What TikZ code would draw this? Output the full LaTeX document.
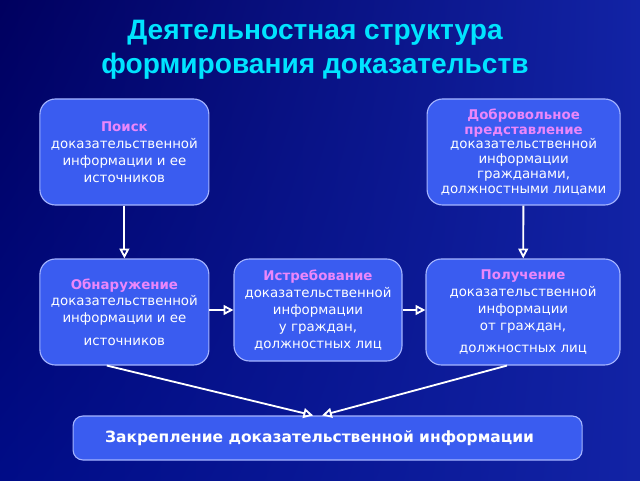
\documentclass[tikz,border=0pt]{standalone}
\usepackage{fontspec}
\setmainfont{DejaVu Sans}
\newfontfamily\titlefont{Liberation Sans}
\usetikzlibrary{arrows.meta,calc,shadings}
\definecolor{bgdark}{RGB}{0,0,95}
\definecolor{bgmid}{RGB}{0,12,135}
\definecolor{bglight}{RGB}{18,35,165}
\definecolor{boxblue}{RGB}{58,92,240}
\definecolor{boxline}{RGB}{165,180,255}
\definecolor{headpink}{RGB}{235,135,250}
\definecolor{titlecyan}{RGB}{0,228,255}
\tikzset{>={Triangle[open,length=7pt,width=7pt]}}
\tikzset{
  stagebox/.style={draw=boxline, line width=0.8pt, fill=boxblue, rounded corners=11pt,
    text=white, align=center, inner sep=2pt, font=\fontsize{9.5}{12}\selectfont},
  flow/.style={->, white, line width=1.3pt},
}
\newcommand{\head}[1]{\textcolor{headpink}{\bfseries #1}}

\begin{document}
\begin{tikzpicture}
    % Draw the background
    \shade[upper left=bgdark, upper right=bglight, lower left=bgmid, lower right=bglight]
        (0,0) rectangle (16,12);

    % Title
    \node[text=titlecyan, align=center, font=\titlefont\bfseries\fontsize{20}{24.5}\selectfont]
        (title) at (7.875,10.75) {Деятельностная структура\\формирования доказательств};

    % Draw the boxes of the upper row
    \node[stagebox, minimum width=4.225cm, minimum height=2.65cm] (search) at (3.11,8.2)
        {\head{Поиск}\\доказательственной\\информации и ее\\источников};
    \node[stagebox, minimum width=4.825cm, minimum height=2.65cm,
          font=\fontsize{9.5}{10.6}\selectfont] (volunt) at (13.09,8.2)
        {\head{Добровольное}\\\head{представление}\\доказательственной\\информации\\гражданами,\\должностными лицами};

    % Draw the boxes of the middle row
    \node[stagebox, minimum width=4.225cm, minimum height=2.65cm] (detect) at (3.11,4.2)
        {\head{Обнаружение}\\доказательственной\\информации и ее\\[4pt]источников};
    \node[stagebox, minimum width=4.2cm, minimum height=2.55cm] (demand) at (7.95,4.25)
        {\head{Истребование}\\доказательственной\\информации\\у граждан,\\должностных лиц};
    \node[stagebox, minimum width=4.85cm, minimum height=2.65cm] (receive) at (13.075,4.2)
        {\head{Получение}\\доказательственной\\информации\\от граждан,\\[4pt]должностных лиц};

    % Draw the bottom box
    \node[stagebox, rounded corners=7pt, minimum width=12.725cm, minimum height=1.1cm,
          font=\bfseries\fontsize{11}{13}\selectfont] (fix) at (8.19,1.05)
        {\hspace*{-0.4cm}Закрепление доказательственной информации};

    % Draw the arrows
    \draw[flow] (search) -- (detect);
    \draw[flow] (volunt) -- (receive);
    \draw[flow] (detect.east |- demand) -- (demand.west);
    \draw[flow] (demand.east) -- (receive.west |- demand);
    \draw[flow] ($(detect.south)+(-0.44,0)$) -- ($(fix.north)+(-0.36,0)$);
    \draw[flow] ($(receive.south)+(-0.4,0)$) -- ($(fix.north)+(-0.14,0)$);
\end{tikzpicture}
\end{document}
